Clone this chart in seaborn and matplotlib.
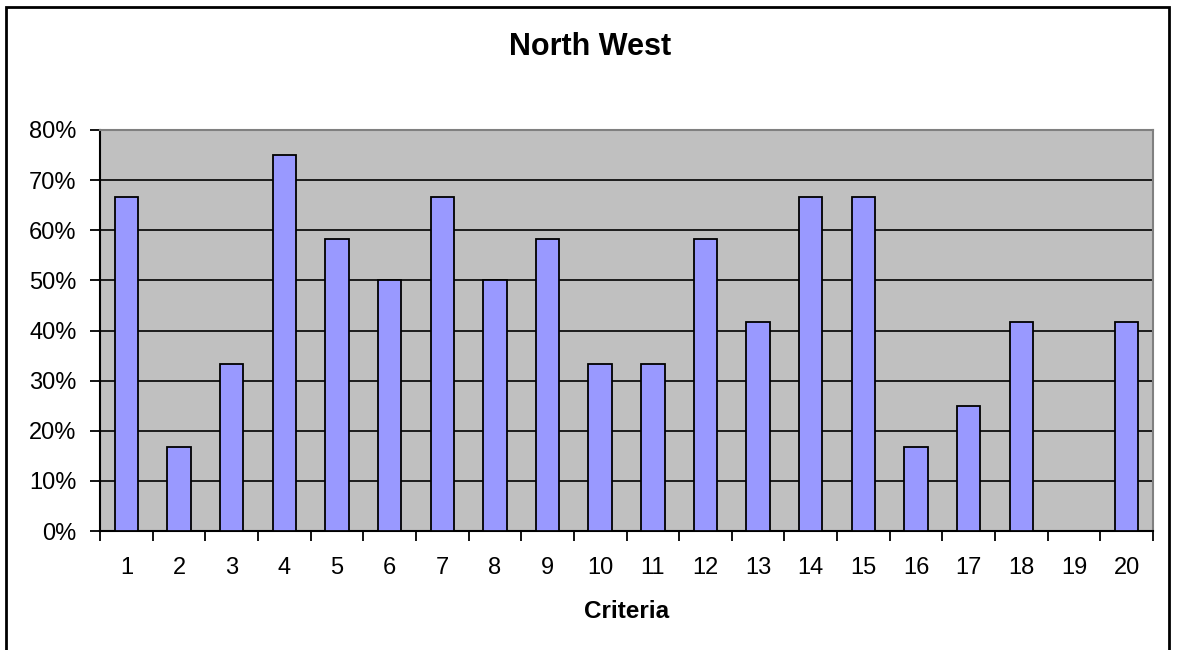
import matplotlib
matplotlib.use("Agg")
import matplotlib.pyplot as plt
from matplotlib.patches import Rectangle
from matplotlib.ticker import FixedLocator, PercentFormatter
import seaborn as sns
import pandas as pd

criteria = [str(i) for i in range(1, 21)]
share = [66.7, 16.7, 33.3, 75.0, 58.3, 50.0, 66.7, 50.0, 58.3, 33.3,
         33.3, 58.3, 41.7, 66.7, 66.7, 16.7, 25.0, 41.7, 0.0, 41.7]
y_ticks = [0, 10, 20, 30, 40, 50, 60, 70, 80]

df = pd.DataFrame({"Criteria": criteria, "Share": share})

sns.set_theme(style="white")
plt.rcParams["font.family"] = ["Liberation Sans", "DejaVu Sans"]

fig = plt.figure(figsize=(11.77, 6.5), dpi=100)
ax = fig.add_axes([100 / 1177, 1 - 531 / 650, 1053 / 1177, 401 / 650])
ax.set_facecolor("#C0C0C0")

sns.barplot(data=df, x="Criteria", y="Share", color="#9999FF", saturation=1,
            width=0.444, edgecolor="black", linewidth=1.3, ax=ax, zorder=3)

ax.set_xlim(-0.5, len(criteria) - 0.5)
ax.set_ylim(0, 80)
ax.yaxis.set_major_locator(FixedLocator(y_ticks))
ax.yaxis.set_major_formatter(PercentFormatter(decimals=0))
ax.yaxis.grid(True, color="black", linewidth=1.2, zorder=1)
ax.set_axisbelow(True)

# category labels centred, tick marks between categories
ax.tick_params(axis="x", which="major", length=0, labelsize=17, pad=19, colors="black")
ax.xaxis.set_minor_locator(FixedLocator([i - 0.5 for i in range(len(criteria) + 1)]))
ax.tick_params(axis="x", which="minor", length=7, width=1.3, direction="out",
               color="black", bottom=True)
ax.tick_params(axis="y", length=7, width=1.3, direction="out", color="black",
               left=True, labelsize=17, pad=10, labelcolor="black")

for side in ("left", "bottom"):
    ax.spines[side].set_color("black")
    ax.spines[side].set_linewidth(1.5)
for side in ("top", "right"):
    ax.spines[side].set_color("#808080")
    ax.spines[side].set_linewidth(1.5)

ax.set_ylabel("")
ax.set_xlabel("Criteria", fontsize=17.5, fontweight="bold", labelpad=15, color="black")
fig.text(590 / 1177, 1 - 47 / 650, "North West", ha="center", va="center",
         fontsize=22, fontweight="bold", color="black")

fig.patches.append(Rectangle((6 / 1177, -0.05), (1169 - 6) / 1177, 1.05 - 7 / 650,
                             transform=fig.transFigure, fill=False,
                             edgecolor="black", linewidth=2))

fig.savefig("out.png", dpi=100, facecolor="white")
